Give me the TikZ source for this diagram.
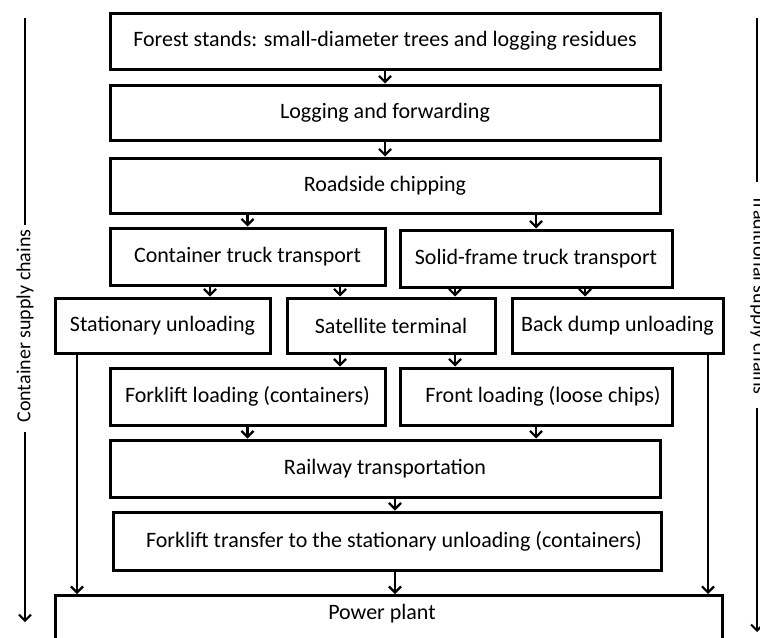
\documentclass[tikz,border=0pt]{standalone}
\usepackage{fontspec}
\setmainfont{Carlito}
\usetikzlibrary{arrows.meta}
\begin{document}
\begin{tikzpicture}[x=1pt,y=-1pt,
  box/.style={draw,line width=3pt,rectangle,inner sep=0pt,font=\fontsize{22}{26}\selectfont},
  arr/.style={line width=2.2pt,-{Straight Barb[length=6pt,width=12pt,line width=2.2pt]}},
  side/.style={line width=2pt},
  sidearr/.style={line width=2pt,-{Straight Barb[length=6pt,width=12pt,line width=2pt]}},
  lab/.style={font=\fontsize{20}{24}\selectfont,inner sep=0pt}]
\useasboundingbox (0,0) rectangle (760,637);
\node[box,minimum width=550pt,minimum height=56pt] (b1) at (385,41) {Forest stands: small-diameter trees and logging residues};
\node[box,minimum width=550pt,minimum height=55pt] (b2) at (385,112.5) {Logging and forwarding};
\node[box,minimum width=550pt,minimum height=55pt] (b3) at (385,185.5) {Roadside chipping};
\node[box,minimum width=275pt,minimum height=57pt] (b4) at (247.5,256.5) {Container truck transport};
\node[box,minimum width=272pt,minimum height=57pt] (b5) at (536,258.5) {Solid-frame truck transport};
\node[box,minimum width=215pt,minimum height=55pt] (b6) at (162.5,325.5) {Stationary unloading};
\node[box,minimum width=208pt,minimum height=55pt] (b7) at (391,325.5) {Satellite terminal};
\node[box,minimum width=211pt,minimum height=55pt] (b8) at (617.5,325.5) {Back dump unloading};
\node[box,minimum width=275pt,minimum height=57pt] (b9) at (247.5,396.5) {Forklift loading (containers)};
\node[box,minimum width=272pt,minimum height=57pt] (b10) at (536,396.5) {\hspace{14pt}Front loading (loose chips)};
\node[box,minimum width=550pt,minimum height=57pt] (b11) at (385,468.5) {Railway transportation};
\node[box,minimum width=548pt,minimum height=58pt] (b12) at (387,541) {\hspace{14pt}Forklift transfer to the stationary unloading (containers)};
\node[box,minimum width=667pt,minimum height=58pt,anchor=north] (b13) at (388.5,594) {};
\node[box,draw=none] (pp) at (382,614) {Power plant};
% x positions of connectors
\coordinate (xa) at (210,0);
\coordinate (xb) at (340,0);
\coordinate (xc) at (455,0);
\coordinate (xd) at (585,0);
\coordinate (xl) at (77,0);
\coordinate (xr) at (708,0);
\coordinate (xm) at (395,0);
\draw[arr] (b1.south) -- (b2.north);
\draw[arr] (b2.south) -- (b3.north);
\draw[arr] (b3.south -| b4.center) -- (b4.north);
\draw[arr] (b3.south -| b5.center) -- (b5.north);
\draw[arr] (b4.south -| xa) -- (b6.north -| xa);
\draw[arr] (b4.south -| xb) -- (b7.north -| xb);
\draw[arr] (b5.south -| xc) -- (b7.north -| xc);
\draw[arr] (b5.south -| xd) -- (b8.north -| xd);
\draw[arr] (b7.south -| xb) -- (b9.north -| xb);
\draw[arr] (b7.south -| xc) -- (b10.north -| xc);
\draw[arr] (b9.south) -- (b11.north -| b9.center);
\draw[arr] (b10.south) -- (b11.north -| b10.center);
\draw[arr] (b11.south -| xm) -- (b12.north -| xm);
\draw[arr] (b12.south -| xm) -- (b13.north -| xm);
\draw[arr] (b6.south -| xl) -- (b13.north -| xl);
\draw[arr] (b8.south -| xr) -- (b13.north -| xr);
% side labels
\node[lab,rotate=90] (lt) at (25,326) {Container supply chains};
\coordinate (lt0) at (25,18);
\coordinate (lt0e) at (25,225);
\coordinate (lt1s) at (25,432);
\coordinate (lt1) at (25,622);
\draw[side] (lt0) -- (lt0e);
\draw[sidearr] (lt1s) -- (lt1);
\node[lab,rotate=-90] (rt) at (759,295) {Traditional supply chains};
\coordinate (rt0) at (757,18);
\coordinate (rt0e) at (757,182);
\coordinate (rt1s) at (757,408);
\coordinate (rt1) at (757,632);
\draw[side] (rt0) -- (rt0e);
\draw[sidearr] (rt1s) -- (rt1);
\end{tikzpicture}
\end{document}
